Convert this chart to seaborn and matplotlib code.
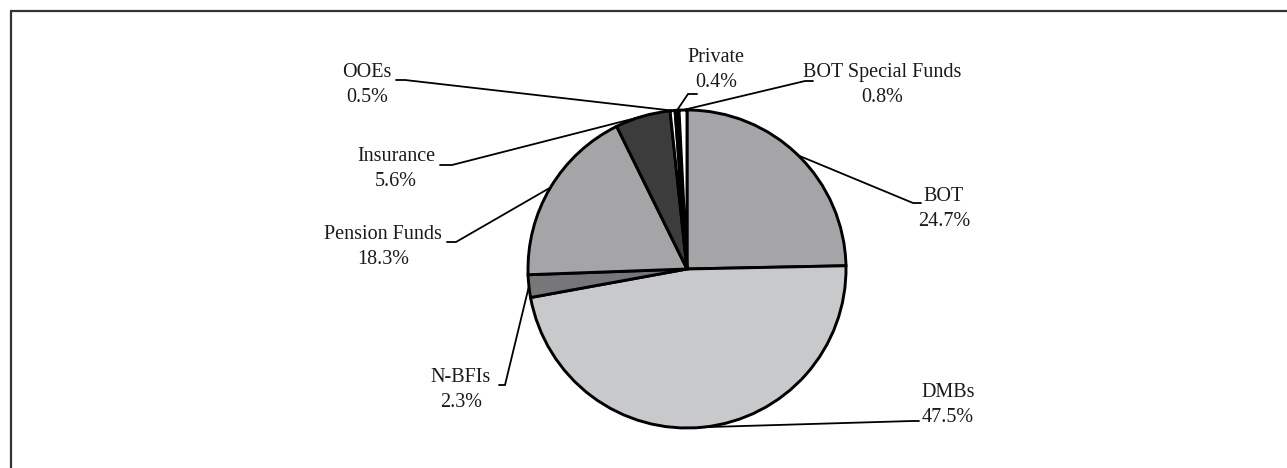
import numpy as np
import matplotlib
matplotlib.use("Agg")
import matplotlib.pyplot as plt
from matplotlib.lines import Line2D
import seaborn as sns

# data
sectors = ["BOT", "DMBs", "N-BFIs", "Pension Funds", "Insurance", "OOEs", "Private", "BOT Special Funds"]
shares = [24.7, 47.5, 2.3, 18.3, 5.6, 0.5, 0.4, 0.8]
colors = ["#a5a5a7", "#c8c9cb", "#77777a", "#a5a5a7", "#3c3c3c", "#ffffff", "#000000", "#ffffff"]

# label layout in pixels: text centre, elbow of leader, end of leader
label_pos = [(944, 209), (948, 405), (461, 390), (383, 247), (396, 169), (367, 85), (716, 70), (882, 85)]
elbow_pos = [(913, 203), (912, 421), (505, 385), (456, 242), (452, 165), (405, 80), (688, 94), (805, 81)]
end_pos = [(921, 203), (919, 421), (499, 385), (447, 242), (440, 165), (396, 80), (697, 94), (813, 81)]

W, H = 1287, 468
CX, CY, R = 687, 269, 159


def px(x, y):
    # pixel position -> data units (radius = 1)
    return (x - CX) / R, (CY - y) / R


sns.set_style("white")
plt.rcParams["font.family"] = ["Liberation Serif", "DejaVu Serif"]

fig = plt.figure(figsize=(W / 100, H / 100), dpi=100)
ax = fig.add_axes([0, 0, 1, 1])

wedges, _ = ax.pie(shares, colors=colors, startangle=90, counterclock=False, radius=1,
                   wedgeprops=dict(edgecolor="black", linewidth=2.1))

for w, name, val, lp, ep, hp in zip(wedges, sectors, shares, label_pos, elbow_pos, end_pos):
    mid = np.deg2rad((w.theta1 + w.theta2) / 2)
    wx, wy = np.cos(mid), np.sin(mid)
    ex, ey = px(*ep)
    hx, hy = px(*hp)
    ax.plot([wx, ex, hx], [wy, ey, hy], color="black", lw=1.3, solid_joinstyle="miter")
    tx, ty = px(*lp)
    ax.text(tx, ty, f"{name}\n{val:.1f}%", ha="center", va="center", fontsize=14.5,
            color="#1a1a1a", linespacing=1.45)

ax.set_xlim(-CX / R, (W - CX) / R)
ax.set_ylim(-(H - CY) / R, CY / R)
ax.set_aspect("equal")
ax.axis("off")

# outer frame (only top and left edges visible in the crop)
fig.add_artist(Line2D([11 / W, 11 / W], [0, 1 - 11 / H], transform=fig.transFigure, color="#333333", lw=1.6))
fig.add_artist(Line2D([11 / W, 1], [1 - 11 / H, 1 - 11 / H], transform=fig.transFigure, color="#333333", lw=1.6))

fig.savefig("out.png", dpi=100)
